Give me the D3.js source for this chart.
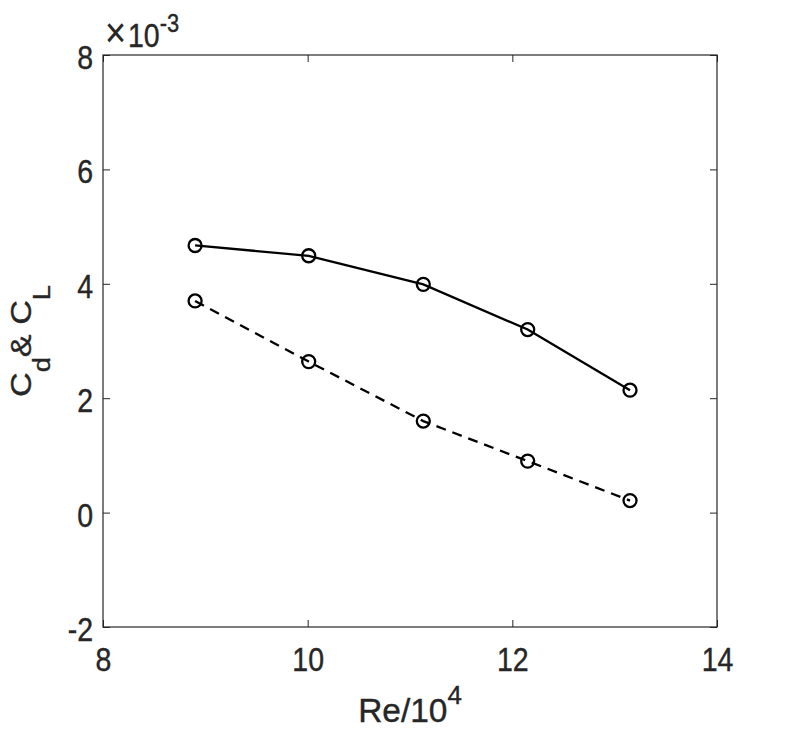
<!DOCTYPE html>
<html>
<head>
<meta charset="utf-8">
<script src="https://cdn.jsdelivr.net/npm/d3@7"></script>
<style>
  body { margin: 0; background: #fff; }
  svg text { font-family: "Liberation Sans", Arial, sans-serif; fill: #262626; stroke: #262626; stroke-width: 0.35; }
  .axis .domain { display: none; }
  .axis line { stroke: #262626; }
</style>
</head>
<body>
<div id="chart"></div>
<script>

// Re/10^4 values and the two coefficient series (x 10^-3)
var re      = [ 8.90, 10.01, 11.13, 12.15, 13.15 ];
var cd      = [ 4.67, 4.49, 3.99, 3.20, 2.14 ];   // solid
var cl      = [ 3.70, 2.64, 1.60, 0.90, 0.21 ];   // dashed
var xTicks  = [ 8, 10, 12, 14 ];
var yTicks  = [ -2, 0, 2, 4, 6, 8 ];

var W = 793, H = 733,
    box = { left: 103, right: 717, top: 55, bottom: 627 },
    ink = '#262626',

    x = d3.scaleLinear()
        .domain( [ 8, 14 ] )
        .range( [ box.left, box.right ] ),
    y = d3.scaleLinear()
        .domain( [ -2, 8 ] )
        .range( [ box.bottom, box.top ] ),

    // plain hyphen minus, no decimals
    fmt = d => String( d ),

    // glyphs in the picture are a bit taller than they are wide
    stretch = 'scale(0.95,1.1)';

var svg = d3.select( '#chart' ).append( 'svg' )
    .attr( 'width', W )
    .attr( 'height', H );

// ticks point inward on all four sides
svg.append( 'g' )
    .attr( 'class', 'axis' )
    .attr( 'transform', `translate(0,${box.bottom})` )
    .call( d3.axisBottom( x ).tickValues( xTicks ).tickFormat( fmt ).tickSizeInner( -7 ).tickSizeOuter( 0 ) )
  .selectAll( 'text' )
    .attr( 'y', 40 )
    .attr( 'dy', 0 )
    .attr( 'font-size', 30 )
    .attr( 'transform', stretch );

svg.append( 'g' )
    .attr( 'class', 'axis' )
    .attr( 'transform', `translate(0,${box.top})` )
    .call( d3.axisTop( x ).tickValues( xTicks ).tickSizeInner( -7 ).tickSizeOuter( 0 ).tickFormat( '' ) );

svg.append( 'g' )
    .attr( 'class', 'axis' )
    .attr( 'transform', `translate(${box.left},0)` )
    .call( d3.axisLeft( y ).tickValues( yTicks ).tickFormat( fmt ).tickSizeInner( -7 ).tickSizeOuter( 0 ) )
  .selectAll( 'text' )
    .attr( 'x', -10.5 )
    .attr( 'dy', 0 )
    .attr( 'y', 12.3 )
    .attr( 'font-size', 30 )
    .attr( 'transform', stretch );

svg.append( 'g' )
    .attr( 'class', 'axis' )
    .attr( 'transform', `translate(${box.right},0)` )
    .call( d3.axisRight( y ).tickValues( yTicks ).tickSizeInner( -7 ).tickSizeOuter( 0 ).tickFormat( '' ) );

svg.append( 'rect' )
    .attr( 'x', box.left )
    .attr( 'y', box.top )
    .attr( 'width', box.right - box.left )
    .attr( 'height', box.bottom - box.top )
    .attr( 'fill', 'none' )
    .attr( 'stroke', ink )
    .attr( 'stroke-width', 1.2 );

// exponent label above the y axis
var expo = svg.append( 'g' )
    .attr( 'transform', `translate(105,47) ${stretch}` )
  .append( 'text' )
    .attr( 'font-size', 30 );
expo.append( 'tspan' ).attr( 'font-size', 38 ).attr( 'stroke-width', 0.1 ).text( '\u00d7' );
expo.append( 'tspan' ).attr( 'dx', 2 ).text( '10' );
expo.append( 'tspan' ).attr( 'dy', -13.5 ).attr( 'font-size', 23 ).text( '-3' );

// axis titles
var xt = svg.append( 'g' )
    .attr( 'transform', `translate(${(box.left + box.right) / 2},722) scale(1.08,1.08)` )
  .append( 'text' )
    .attr( 'text-anchor', 'middle' )
    .attr( 'font-size', 31 );
xt.append( 'tspan' ).text( 'Re/10' );
xt.append( 'tspan' ).attr( 'dy', -17 ).attr( 'font-size', 24 ).text( '4' );

var yt = svg.append( 'g' )
    .attr( 'transform', `translate(31,${(box.top + box.bottom) / 2}) scale(1,1.14) rotate(-90)` )
  .append( 'text' )
    .attr( 'text-anchor', 'middle' )
    .attr( 'font-size', 30 );
yt.append( 'tspan' ).text( 'C' );
yt.append( 'tspan' ).attr( 'dy', 19 ).attr( 'font-size', 24 ).text( 'd' );
yt.append( 'tspan' ).attr( 'dy', -19 ).text( '& C' );
yt.append( 'tspan' ).attr( 'dy', 19 ).attr( 'font-size', 24 ).text( 'L' );

// the two series
var series = [
  { values: cd, dash: null },
  { values: cl, dash: '10,7' }
];

var line = d3.line()
    .x( d => x( d[0] ) )
    .y( d => y( d[1] ) );

var groups = svg.append( 'g' )
    .selectAll( 'g' )
    .data( series ).enter()
  .append( 'g' );

groups.append( 'path' )
    .attr( 'd', s => line( d3.zip( re, s.values ) ) )
    .attr( 'fill', 'none' )
    .attr( 'stroke', '#000' )
    .attr( 'stroke-width', 2.3 )
    .attr( 'stroke-dasharray', s => s.dash );

groups.selectAll( 'circle' )
    .data( s => d3.zip( re, s.values ) ).enter()
  .append( 'circle' )
    .attr( 'cx', d => x( d[0] ) )
    .attr( 'cy', d => y( d[1] ) )
    .attr( 'r', 6.5 )
    .attr( 'fill', 'none' )
    .attr( 'stroke', '#000' )
    .attr( 'stroke-width', 2.3 );

</script>
</body>
</html>
